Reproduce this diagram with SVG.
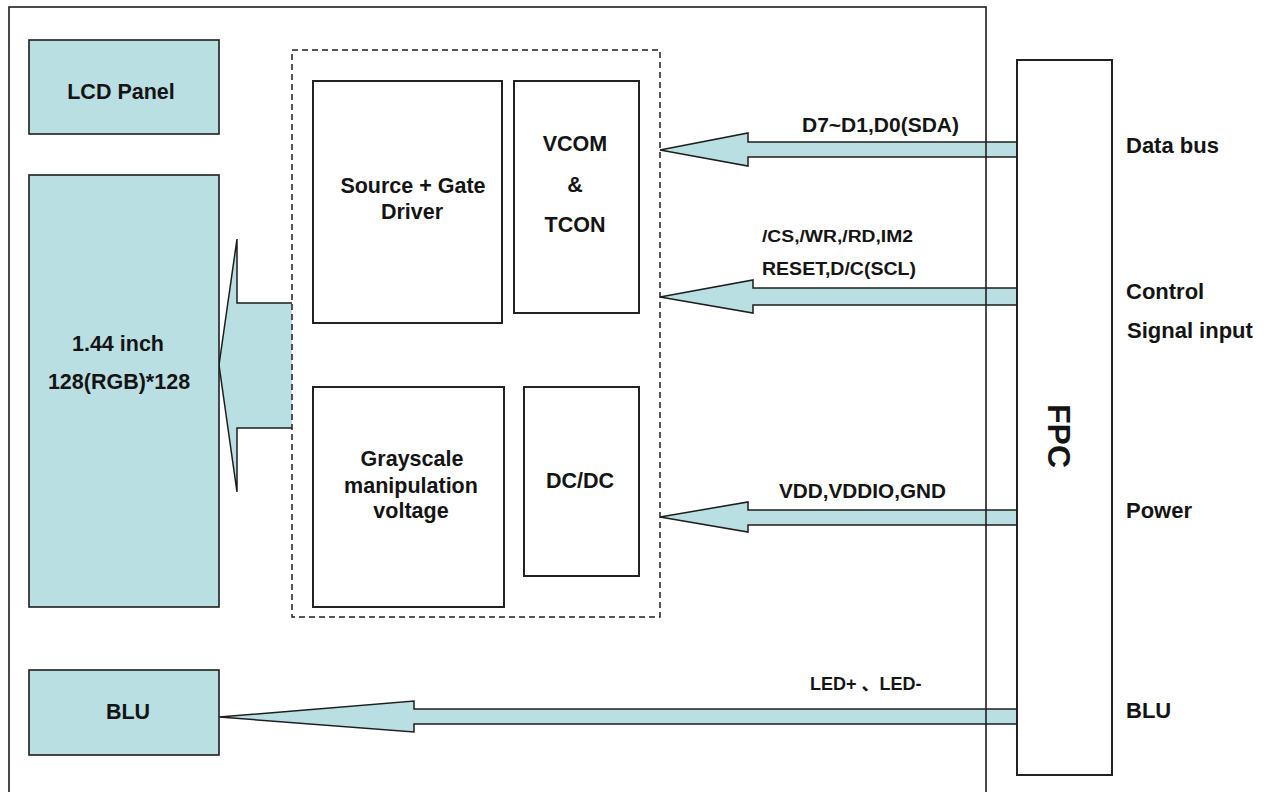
<svg xmlns="http://www.w3.org/2000/svg" width="1274" height="792" viewBox="0 0 1274 792">
<style>
.t{font-family:"Liberation Sans",Arial,sans-serif;font-weight:bold;fill:#141414}
.c{text-anchor:middle;font-size:21.5px}
.r{font-size:22px}
.s{font-size:20px}
.teal{fill:#BADFE2;stroke:#1e1e1e;stroke-width:1.6}
.box{fill:#ffffff;stroke:#222;stroke-width:2}
.arrow{fill:#BADFE2;stroke:#1e1e1e;stroke-width:1.5;stroke-linejoin:miter}
</style>
<rect x="0" y="0" width="1274" height="792" fill="#ffffff"/>
<g id="connectors">
  <path class="arrow" d="M292,303 L237,303 L237,239 L219,365 L237,492 L237,428 L292,428"/>
  <path class="arrow" d="M1017,142 L748,142 L748,133 L660,150 L748,166 L748,157 L1017,157"/>
  <path class="arrow" d="M1017,288 L753,288 L753,280 L660,297 L753,313 L753,305 L1017,305"/>
  <path class="arrow" d="M1017,510 L748,510 L748,502 L660,517 L748,532 L748,525 L1017,525"/>
  <path class="arrow" d="M1017,709 L414,709 L414,701 L219,717 L414,732 L414,724 L1017,724"/>
</g>
<g id="frame">
  <rect x="9" y="7" width="977" height="800" fill="none" stroke="#1e1e1e" stroke-width="1.6"/>
</g>
<g id="lcd-panel">
  <rect class="teal" x="29" y="40" width="190" height="94"/>
  <text class="t c" x="121" y="99">LCD Panel</text>
</g>
<g id="display">
  <rect class="teal" x="29" y="175" width="190" height="432"/>
  <text class="t c" x="118" y="351">1.44 inch</text>
  <text class="t c" x="119" y="389">128(RGB)*128</text>
</g>
<g id="blu-box">
  <rect class="teal" x="29" y="670" width="190" height="85"/>
  <text class="t c" x="128" y="719">BLU</text>
</g>
<g id="driver-ic">
  <rect x="292" y="50" width="368" height="567" fill="none" stroke="#1e1e1e" stroke-width="1.5" stroke-dasharray="6,4"/>
</g>
<g id="source-gate">
  <rect class="box" x="313" y="81" width="189" height="242"/>
  <text class="t c" x="413" y="193">Source + Gate</text>
  <text class="t c" x="412" y="219">Driver</text>
</g>
<g id="vcom-tcon">
  <rect class="box" x="514" y="81" width="125" height="232"/>
  <text class="t c" x="575" y="151">VCOM</text>
  <text class="t c" x="575" y="192">&amp;</text>
  <text class="t c" x="575" y="232">TCON</text>
</g>
<g id="grayscale">
  <rect class="box" x="313" y="387" width="191" height="220"/>
  <text class="t c" x="412" y="466">Grayscale</text>
  <text class="t c" x="411" y="493">manipulation</text>
  <text class="t c" x="411" y="518">voltage</text>
</g>
<g id="dcdc">
  <rect class="box" x="524" y="387" width="115" height="189"/>
  <text class="t c" x="580" y="488">DC/DC</text>
</g>
<g id="fpc">
  <rect class="box" x="1017" y="60" width="95" height="715"/>
  <text class="t" font-size="32" text-anchor="middle" transform="translate(1048,436) rotate(90)">FPC</text>
</g>
<g id="signal-labels">
  <text class="t" font-size="20" x="802" y="132" textLength="157" lengthAdjust="spacingAndGlyphs">D7~D1,D0(SDA)</text>
  <text class="t" font-size="16" x="762" y="242" textLength="151" lengthAdjust="spacingAndGlyphs">/CS,/WR,/RD,IM2</text>
  <text class="t" font-size="18" x="762" y="275" textLength="154" lengthAdjust="spacingAndGlyphs">RESET,D/C(SCL)</text>
  <text class="t" font-size="20.5" x="779" y="498" textLength="167" lengthAdjust="spacingAndGlyphs">VDD,VDDIO,GND</text>
  <text class="t" font-size="18" x="810" y="690" style="font-family:'Liberation Sans','Noto Sans CJK SC',sans-serif">LED+ 、LED-</text>
</g>
<g id="port-labels">
  <text class="t r" x="1126" y="153">Data bus</text>
  <text class="t r" x="1126" y="299">Control</text>
  <text class="t r" x="1127" y="338">Signal input</text>
  <text class="t r" x="1126" y="518">Power</text>
  <text class="t r" x="1126" y="718">BLU</text>
</g>
</svg>
